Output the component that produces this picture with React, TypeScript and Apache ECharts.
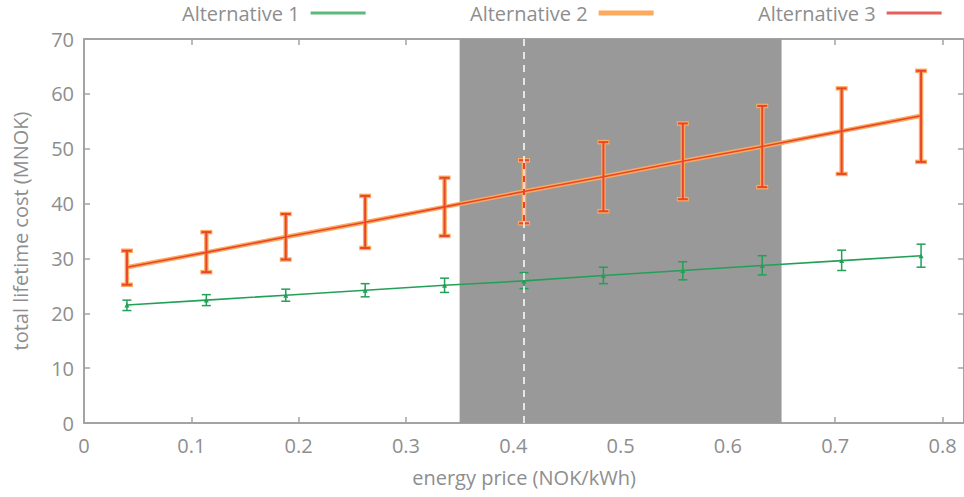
import React, { useEffect, useRef } from "react";
import * as echarts from "echarts";

// Energy price levels (NOK/kWh) at which each alternative was evaluated
const energyPrice = [0.04, 0.114, 0.188, 0.262, 0.336, 0.41, 0.484, 0.558, 0.632, 0.706, 0.78];

// Total lifetime cost (MNOK): mean, lower and upper bound
const alt1Mean = [21.5, 22.4, 23.3, 24.2, 25.1, 25.9, 26.9, 27.8, 28.7, 29.6, 30.5];
const alt1Low = [20.5, 21.4, 22.2, 23.0, 23.8, 24.5, 25.4, 26.1, 27.0, 27.8, 28.4];
const alt1High = [22.4, 23.4, 24.4, 25.4, 26.4, 27.4, 28.4, 29.4, 30.5, 31.5, 32.6];

const alt2Mean = [28.4, 31.1, 33.9, 36.6, 39.4, 42.2, 44.9, 47.7, 50.4, 53.2, 56.0];
const alt2Low = [25.2, 27.5, 29.8, 31.9, 34.1, 36.4, 38.6, 40.8, 43.0, 45.4, 47.6];
const alt2High = [31.4, 34.8, 38.1, 41.4, 44.7, 47.9, 51.2, 54.6, 57.8, 61.0, 64.2];

const alt3Mean = [28.4, 31.1, 33.9, 36.6, 39.4, 42.2, 44.9, 47.7, 50.4, 53.2, 56.0];
const alt3Low = [25.2, 27.5, 29.8, 31.9, 34.1, 36.4, 38.6, 40.8, 43.0, 45.4, 47.6];
const alt3High = [31.4, 34.8, 38.1, 41.4, 44.7, 47.9, 51.2, 54.6, 57.8, 61.0, 64.2];

// Expected price range and reference price
const priceRange = [0.35, 0.65];
const referencePrice = 0.41;

const seriesNames = ["Alternative 1", "Alternative 2", "Alternative 3"];

const FONT = "'Open Sans', sans-serif";
const TEXT = "#8e8e8e";
const AXIS = "#a3a3a3";
const FS = 20;

const GREEN = "#23a058";
const ORANGE = "#fcaa5e";
const RED = "#e8452c";

function errorBars(name: string, low: number[], high: number[], color: string, width: number, capHalf: number, z: number) {
  return {
    type: "custom",
    name,
    z,
    silent: true,
    data: energyPrice.map((x, i) => [x, low[i], high[i]]),
    renderItem: (_params: any, api: any) => {
      const x = api.value(0);
      const top = api.coord([x, api.value(2)]);
      const bot = api.coord([x, api.value(1)]);
      const style = { stroke: color, lineWidth: width, fill: "none" };
      return {
        type: "group",
        children: [
          { type: "line", shape: { x1: top[0], y1: top[1], x2: bot[0], y2: bot[1] }, style },
          { type: "line", shape: { x1: top[0] - capHalf, y1: top[1], x2: top[0] + capHalf, y2: top[1] }, style },
          { type: "line", shape: { x1: bot[0] - capHalf, y1: bot[1], x2: bot[0] + capHalf, y2: bot[1] }, style },
        ],
      };
    },
  };
}

function legendFor(name: string, color: string, left: number, height: number) {
  return {
    data: [{ name, icon: "rect", itemStyle: { color } }],
    left,
    top: 3,
    padding: 0,
    align: "right",
    itemWidth: 55,
    itemHeight: height,
    selectedMode: false,
    textStyle: { fontFamily: FONT, fontSize: FS, color: TEXT, padding: [0, 6, 0, 0] },
  };
}

export default function App() {
  const ref = useRef<HTMLDivElement>(null);

  useEffect(() => {
    if (!ref.current) return;
    const chart = echarts.init(ref.current, null, { renderer: "svg" });

    const pts = (vals: number[]) => energyPrice.map((x, i) => [x, vals[i]]);

    const axisCommon = {
      axisLine: { show: true, onZero: false, lineStyle: { color: AXIS, width: 2 } },
      axisTick: { show: true, inside: true, length: 6, lineStyle: { color: AXIS, width: 1.5 } },
      splitLine: { show: false },
    };

    chart.setOption({
      animation: false,
      backgroundColor: "#ffffff",
      legend: [
        legendFor(seriesNames[0], "#5cb97c", 182, 3),
        legendFor(seriesNames[1], ORANGE, 470, 5),
        legendFor(seriesNames[2], "#e4605a", 758, 3),
      ],
      grid: { left: 84, top: 39, width: 881.5, height: 384 },
      xAxis: [
        {
          type: "value",
          min: 0,
          max: 0.82,
          interval: 0.1,
          name: "energy price (NOK/kWh)",
          nameLocation: "middle",
          nameGap: 44,
          nameTextStyle: { fontFamily: FONT, fontSize: FS, color: TEXT },
          axisLabel: { fontFamily: FONT, fontSize: FS, color: TEXT, margin: 12, showMaxLabel: false },
          ...axisCommon,
        },
        {
          type: "value",
          position: "top",
          min: 0,
          max: 0.82,
          interval: 0.1,
          axisLabel: { show: false },
          ...axisCommon,
        },
      ],
      yAxis: [
        {
          type: "value",
          min: 0,
          max: 70,
          interval: 10,
          name: "total lifetime cost (MNOK)",
          nameLocation: "middle",
          nameGap: 54,
          nameTextStyle: { fontFamily: FONT, fontSize: FS, color: TEXT },
          axisLabel: { fontFamily: FONT, fontSize: FS, color: TEXT, margin: 10 },
          ...axisCommon,
        },
        {
          type: "value",
          position: "right",
          min: 0,
          max: 70,
          interval: 10,
          axisLabel: { show: false },
          ...axisCommon,
        },
      ],
      series: [
        {
          name: "priceRange",
          type: "line",
          data: [],
          z: 0,
          silent: true,
          markArea: {
            silent: true,
            itemStyle: { color: "#999999", opacity: 1 },
            data: [[{ xAxis: priceRange[0] }, { xAxis: priceRange[1] }]],
          },
        },
        errorBars(seriesNames[0], alt1Low, alt1High, GREEN, 1.5, 4.5, 2),
        {
          name: seriesNames[0],
          type: "line",
          z: 2,
          data: pts(alt1Mean),
          lineStyle: { color: GREEN, width: 1.6 },
          itemStyle: { color: GREEN },
          symbol: "triangle",
          symbolSize: 5,
        },
        errorBars(seriesNames[1], alt2Low, alt2High, ORANGE, 4.5, 6, 3),
        {
          name: seriesNames[1],
          type: "line",
          z: 3,
          data: pts(alt2Mean),
          lineStyle: { color: ORANGE, width: 4.5 },
          itemStyle: { color: ORANGE },
          symbol: "none",
        },
        errorBars(seriesNames[2], alt3Low, alt3High, RED, 2, 5, 4),
        {
          name: seriesNames[2],
          type: "line",
          z: 4,
          data: pts(alt3Mean),
          lineStyle: { color: RED, width: 1.6 },
          itemStyle: { color: RED },
          symbol: "none",
        },
        {
          name: "referencePrice",
          type: "line",
          data: [],
          z: 6,
          silent: true,
          markLine: {
            silent: true,
            symbol: "none",
            label: { show: false },
            lineStyle: { color: "#ffffff", width: 1.5, type: [7, 6] },
            data: [[{ coord: [referencePrice, 0] }, { coord: [referencePrice, 70] }]],
          },
        },
      ],
    });

    return () => chart.dispose();
  }, []);

  return (
    <div
      ref={ref}
      style={{ position: "fixed", left: 0, top: 0, width: 964, height: 497, background: "#fff" }}
    />
  );
}
